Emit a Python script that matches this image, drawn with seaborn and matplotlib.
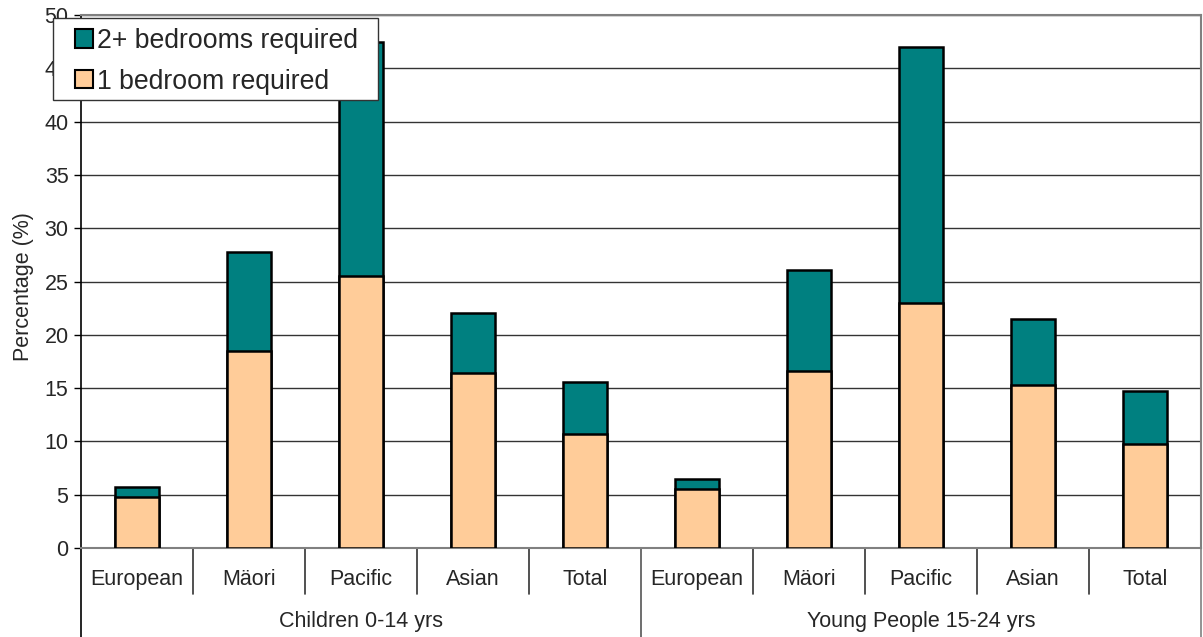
import matplotlib
matplotlib.use("Agg")
import matplotlib.pyplot as plt
import matplotlib.transforms as mtransforms
from matplotlib.lines import Line2D
from matplotlib.patches import Patch, Rectangle
import numpy as np
import pandas as pd
import seaborn as sns

# Overcrowding by ethnic group: share of people in households needing extra bedrooms
groups = ["Children 0-14 yrs", "Young People 15-24 yrs"]
ethnicities = ["European", "Mäori", "Pacific", "Asian", "Total"]

one_bed_children = [4.8, 18.5, 25.5, 16.4, 10.7]
two_plus_children = [0.9, 9.3, 22.0, 5.6, 4.9]
one_bed_young = [5.5, 16.6, 23.0, 15.3, 9.8]
two_plus_young = [1.0, 9.5, 24.0, 6.2, 4.9]

y_ticks = [0, 5, 10, 15, 20, 25, 30, 35, 40, 45, 50]

TEAL = "#008080"
PEACH = "#FFCC99"

rows = []
for g, ones, twos in [(groups[0], one_bed_children, two_plus_children),
                      (groups[1], one_bed_young, two_plus_young)]:
    for e, o, t in zip(ethnicities, ones, twos):
        rows.append({"key": f"{g}|{e}", "group": g, "ethnicity": e,
                     "one": o, "two": t, "total": o + t})
df = pd.DataFrame(rows)
order = list(df["key"])

sns.set_style("white")
plt.rcParams["font.family"] = ["Liberation Sans", "DejaVu Sans"]

W, H = 1203, 637
fig = plt.figure(figsize=(W / 100, H / 100), dpi=100)
ax = fig.add_axes([81 / W, 89 / H, 1120 / W, 533 / H])

# stacked bars: full height in teal, lower segment in peach on top of it
sns.barplot(data=df, x="key", y="total", order=order, color=TEAL, width=0.4,
            edgecolor="black", linewidth=1.8, saturation=1, ax=ax, zorder=3)
sns.barplot(data=df, x="key", y="one", order=order, color=PEACH, width=0.4,
            edgecolor="black", linewidth=1.8, saturation=1, ax=ax, zorder=4)

ax.set_xlim(-0.5, len(order) - 0.5)
ax.set_ylim(0, 50)
ax.set_yticks(y_ticks)
ax.set_yticklabels([str(v) for v in y_ticks], fontsize=15.5)
ax.tick_params(axis="y", length=5, width=1, color="black", left=True, pad=4)
ax.set_xticks([])
ax.set_xlabel("")
ax.set_ylabel("Percentage (%)", fontsize=15.5)
ax.yaxis.set_label_coords(-0.042, 0.49)

ax.yaxis.grid(True, color="#333333", linewidth=1)
ax.set_axisbelow(True)

for side in ["top", "right", "bottom"]:
    ax.spines[side].set_color("#808080")
    ax.spines[side].set_linewidth(1.5)
    ax.spines[side].set_visible(True)
ax.spines["left"].set_color("black")
ax.spines["left"].set_linewidth(1.2)

# two-level category axis
trans = mtransforms.blended_transform_factory(ax.transData, ax.transAxes)
n = len(ethnicities)
for i, e in enumerate(df["ethnicity"]):
    ax.text(i, -0.060, e, transform=trans, ha="center", va="center",
            fontsize=15.5, clip_on=False)
for k in range(1, len(order)):
    full = (k % n == 0)
    y0 = -0.167 if full else -0.086
    ax.add_line(Line2D([k - 0.5, k - 0.5], [0, y0], transform=trans,
                       color="#555555" if full else "#333333", lw=1.2,
                       clip_on=False))
for x_edge in [-0.5, len(order) - 0.5]:
    ax.add_line(Line2D([x_edge, x_edge], [0, -0.167], transform=trans,
                       color="black" if x_edge < 0 else "#808080", lw=1.2,
                       clip_on=False))
for gi, g in enumerate(groups):
    ax.text(gi * n + (n - 1) / 2, -0.138, g, transform=trans, ha="center",
            va="center", fontsize=15.5, clip_on=False)

# legend box drawn over the plot's top-left corner
box = Rectangle((53 / W, 1 - 100 / H), 325 / W, 82 / H, transform=fig.transFigure,
                facecolor="white", edgecolor="#333333", linewidth=1.0, zorder=5)
fig.patches.append(box)

handles = [Patch(facecolor=TEAL, edgecolor="black", linewidth=1.5),
           Patch(facecolor=PEACH, edgecolor="black", linewidth=1.5)]
leg = fig.legend(handles, ["2+ bedrooms required", "1 bedroom required"],
                 loc="upper left", bbox_to_anchor=(75 / W, 1 - 28 / H),
                 fontsize=19.2, frameon=False, borderaxespad=0, borderpad=0,
                 handlelength=0.68, handleheight=0.68, handletextpad=0.16,
                 labelspacing=0.55)
leg.set_zorder(10)

fig.savefig("out.png", dpi=100)
